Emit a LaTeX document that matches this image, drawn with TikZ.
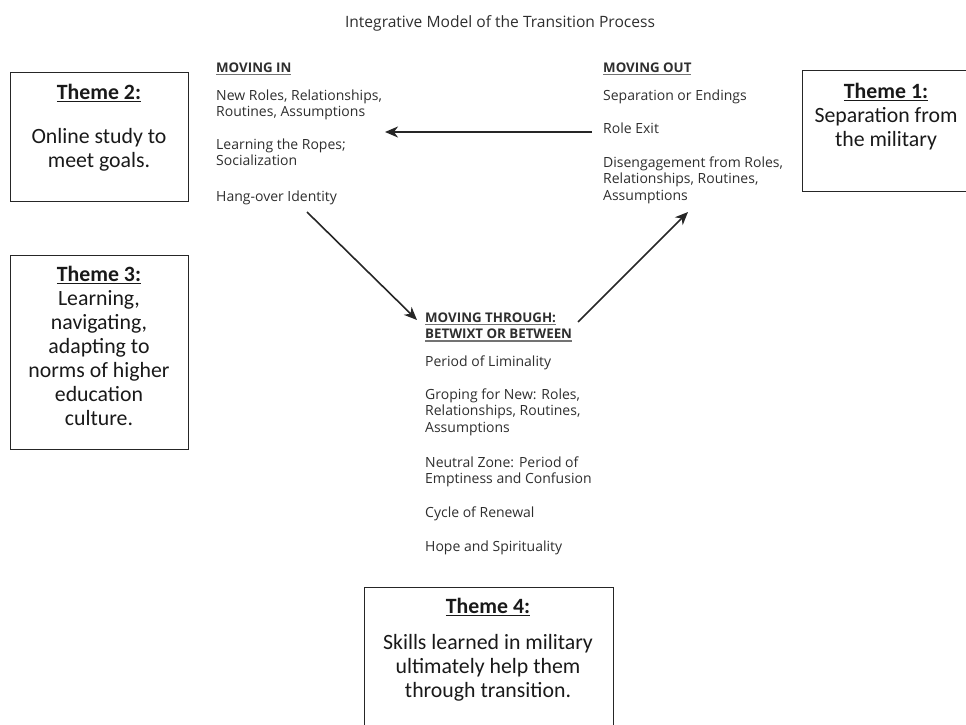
\documentclass[tikz,border=0pt]{standalone}
\usepackage{fontspec}
\setmainfont{Carlito}
\newfontfamily\modelfont{Open Sans}
\usetikzlibrary{arrows.meta}
\definecolor{modelgray}{HTML}{2E2E2E}
\newcommand\modelul[1]{\setbox0\hbox{#1}\rlap{\color{black!55}\rule[-3.2pt]{\wd0}{1.3pt}}\box0}
\newcommand\themeul[1]{\setbox0\hbox{#1}\rlap{\rule[-3pt]{\wd0}{1.2pt}}\box0}
\newcommand\headsize{\fontsize{13.3}{16.5}\selectfont}
\begin{document}
\begin{tikzpicture}[x=1pt,y=-1pt,
  model/.style={font=\modelfont\fontsize{14}{16.5}\selectfont, text=modelgray, align=left, anchor=base west, inner sep=0pt},
  themebox/.style={draw=black!85, line width=1.3pt, inner sep=0pt, anchor=north west},
  themetext/.style={font=\fontsize{21.8}{24}\selectfont, align=center, anchor=base, inner sep=0pt, text=black!90},
  arr/.style={-{Stealth[length=13pt,width=11pt,inset=4pt]}, line width=1.6pt, draw=black!85}]
\path[use as bounding box] (0,0) rectangle (966,725);
\clip (0,0) rectangle (966,725);

% title (anchor = baseline of the last line)
\node[model, anchor=base, font=\modelfont\fontsize{15.6}{18}\selectfont] (title) at (500,28) {Integrative Model of the Transition Process};

% moving in
\node[model] (inhead) at (216,72) {\headsize\modelul{\textbf{MOVING IN}}};
\node[model] (in1) at (216,116.5) {New Roles, Relationships,\\Routines, Assumptions};
\node[model] (in2) at (216,165.5) {Learning the Ropes;\\Socialization};
\node[model] (in3) at (216,201) {Hang-over Identity};

% moving out
\node[model] (outhead) at (603,72) {\headsize\modelul{\textbf{MOVING OUT}}};
\node[model] (out1) at (603,100) {Separation or Endings};
\node[model] (out2) at (603,133) {Role Exit};
\node[model] (out3) at (603,200) {Disengagement from Roles,\\Relationships, Routines,\\Assumptions};

% moving through
\node[model] (thhead) at (425,338.5) {\headsize\modelul{\textbf{MOVING THROUGH:}}\\\headsize\modelul{\textbf{BETWIXT OR BETWEEN}}};
\node[model] (th1) at (425,366) {Period of Liminality};
\node[model] (th2) at (425,432) {Groping for New: Roles,\\Relationships, Routines,\\Assumptions};
\node[model] (th3) at (425,483.5) {Neutral Zone: Period of\\Emptiness and Confusion};
\node[model] (th4) at (425,517) {Cycle of Renewal};
\node[model] (th5) at (425,551) {Hope and Spirituality};

% arrows
\coordinate (a1s) at (592,132);
\coordinate (a1e) at (385,132);
\coordinate (a2s) at (307,212);
\coordinate (a2e) at (417,320);
\coordinate (a3s) at (578,322);
\coordinate (a3e) at (688,212);
\draw[arr] (a1s) -- (a1e);
\draw[arr] (a2s) -- (a2e);
\draw[arr] (a3s) -- (a3e);

% theme boxes
\node[themebox, minimum width=178pt, minimum height=129pt] (t2box) at (10,72) {};
\node[themetext] (t2text) at (99,167) {\themeul{\textbf{Theme 2:}}\\[20pt]Online study to\\meet goals.};

\node[themebox, minimum width=175pt, minimum height=121pt] (t1box) at (802,70) {};
\node[themetext] (t1text) at (886,146) {\themeul{\textbf{Theme 1:}}\\Separation from\\the military};

\node[themebox, minimum width=178pt, minimum height=194pt] (t3box) at (10,255) {};
\node[themetext] (t3text) at (99,425) {\themeul{\textbf{Theme 3:}}\\Learning,\\navigating,\\adapting to\\norms of higher\\education\\culture.};

\node[themebox, minimum width=249pt, minimum height=160pt] (t4box) at (364,587) {};
\node[themetext] (t4text) at (488,697) {\themeul{\textbf{Theme 4:}}\\[12pt]Skills learned in military\\ultimately help them\\through transition.};
\end{tikzpicture}
\end{document}
